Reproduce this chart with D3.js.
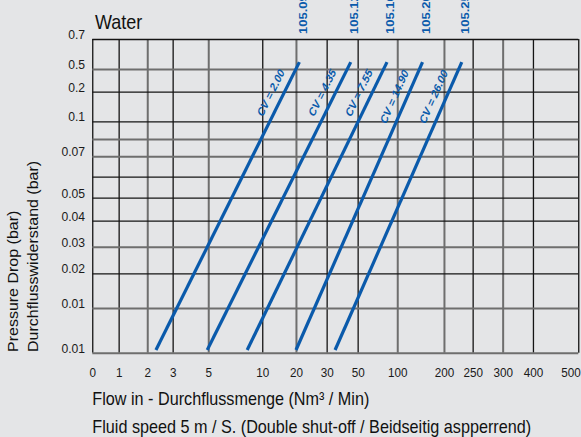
<!doctype html>
<html lang="en">
<head>
<meta charset="UTF-8">
<title>Water - pressure drop</title>
<style>
  html, body { margin: 0; padding: 0; background: #e4e5e7; }
  svg { display: block; font-family: "Liberation Sans", Arial, sans-serif; }
</style>
</head>
<body>
<svg width="581" height="437"></svg>

<script src="https://d3js.org/d3.v7.min.js"></script>
<script>
    // chart data
    const xTicks = [0, 1, 2, 3, 5, 10, 20, 30, 50, 100, 200, 250, 300, 400, 500];
    const yTickLabels = ['0.01', '0.01', '0.02', '0.03', '0.04', '0.05', '', '0.07', '', '0.1', '0.2', '0.5', '0.7'];
    const cvValues = [2.00, 4.35, 7.55, 14.90, 26.00];
    const modelLabels = ['105.09', '105.12', '105.16', '105.20', '105.25'];
    const flowLow = [2.34, 4.94, 8.6, 20.0, 35.4];     // flow at bottom end of each line
    const flowHigh = [21.1, 45.5, 87, 154, 231];       // flow at top end of each line
    const rowLow = 0.06, rowHigh = 11.23;              // ends of the lines, in grid rows

    // layout (the grid is not evenly spaced)
    const SX = 0.9; // the whole drawing is a bit squeezed sideways
    const xGridPx = [92.3, 118.7, 147.3, 172.7, 208.3, 262.3, 296, 326.7, 357.7, 397.3, 444, 472.7, 502.7, 533, 578.3];
    const yGridPx = [352.7, 308, 273.3, 246.7, 220.7, 197.7, 176.7, 156.3, 139, 121.3, 91.7, 69, 39];
    const xDark = [1, 1, 0, 1, 0, 1, 0, 1, 1, 0, 0, 1, 0, 1, 1];
    const yDark = [0, 0, 1, 0, 1, 1, 1, 0, 0, 1, 1, 0, 1];
    const blue = '#0a5aab';

    const svg = d3.select('svg');
    const g = svg.append('g').attr('transform', `scale(${SX},1)`);

    const x = d3.scaleLinear()
        .domain(xTicks)
        .range(xGridPx.map(v => v / SX));
    const y = d3.scaleLinear()
        .domain(d3.range(yGridPx.length))
        .range(yGridPx);

    const plotLeft = x(0), plotRight = x(500), plotTop = y(12), plotBottom = y(0);

    const gridStyle = (sel, dark) => sel
        .attr('stroke', (d, i) => dark[i] ? '#141414' : '#6e6e6e')
        .attr('stroke-width', (d, i) => dark[i] ? 1.3 : 2)
        .attr('vector-effect', 'non-scaling-stroke');

    // x axis + vertical grid
    const xAxis = g.append('g')
        .attr('transform', `translate(0,${plotBottom})`)
        .call(d3.axisBottom(x)
            .tickValues(xTicks)
            .tickFormat(d => d)
            .tickSize(-(plotBottom - plotTop))
            .tickPadding(15));
    xAxis.select('.domain').remove();
    gridStyle(xAxis.selectAll('.tick line'), xDark);
    xAxis.selectAll('.tick text')
        .attr('font-size', 13)
        .attr('fill', '#1a1a1a');
    // last label sits inside the right edge
    xAxis.selectAll('.tick text').filter(d => d === 500)
        .attr('text-anchor', 'end')
        .attr('dx', 2 / SX);

    // y axis + horizontal grid
    const yAxis = g.append('g')
        .attr('transform', `translate(${plotLeft},0)`)
        .call(d3.axisLeft(y)
            .tickValues(d3.range(yGridPx.length))
            .tickFormat(i => yTickLabels[i])
            .tickSize(-(plotRight - plotLeft))
            .tickPadding(8));
    yAxis.select('.domain').remove();
    gridStyle(yAxis.selectAll('.tick line'), yDark);
    yAxis.selectAll('.tick text')
        .attr('font-size', 13.5)
        .attr('dy', '-0.05em')
        .attr('fill', '#1a1a1a');

    // flow lines
    const lines = cvValues.map((cv, i) => ({
        cv: cv,
        model: modelLabels[i],
        p1: [x(flowLow[i]), y(rowLow)],
        p2: [x(flowHigh[i]), y(rowHigh)]
    }));

    g.selectAll('path.cv')
        .data(lines)
        .join('path')
        .attr('class', 'cv')
        .attr('d', d => d3.line()([d.p1, d.p2]))
        .attr('stroke', blue)
        .attr('stroke-width', 3.2)
        .attr('vector-effect', 'non-scaling-stroke')
        .attr('fill', 'none');

    // CV labels along each line
    g.selectAll('text.cvlab')
        .data(lines)
        .join('text')
        .attr('class', 'cvlab')
        .attr('transform', d => {
            const dx = d.p2[0] - d.p1[0], dy = d.p2[1] - d.p1[1];
            const a = Math.atan2(dy, dx);
            const bx = d.p2[0] - dx * 0.05, by = d.p2[1] - dy * 0.05;
            const ax = bx + 9 * Math.sin(a), ay = by - 9 * Math.cos(a);
            return `translate(${ax},${ay}) rotate(${a * 180 / Math.PI})`;
        })
        .attr('text-anchor', 'end')
        .attr('font-size', 11.5)
        .attr('font-weight', 'bold')
        .attr('font-style', 'italic')
        .attr('fill', blue)
        .text(d => 'CV = ' + d.cv.toFixed(2));

    // model numbers above the lines
    g.selectAll('text.model')
        .data(lines)
        .join('text')
        .attr('class', 'model')
        .attr('transform', d => `translate(${d.p2[0] + 8.3},34) rotate(-90)`)
        .attr('font-size', 13)
        .attr('font-weight', 'bold')
        .attr('fill', blue)
        .text(d => d.model);

    // titles
    g.append('text')
        .attr('x', 95 / SX)
        .attr('y', 29.5)
        .attr('font-size', 20)
        .attr('fill', '#111')
        .text('Water');

    g.append('text')
        .attr('x', plotLeft)
        .attr('y', 405)
        .attr('font-size', 18)
        .attr('fill', '#111')
        .text('Flow in - Durchflussmenge (Nm³ / Min)');

    g.append('text')
        .attr('x', plotLeft)
        .attr('y', 433)
        .attr('font-size', 18)
        .attr('fill', '#111')
        .text('Fluid speed 5 m / S. (Double shut-off / Beidseitig aspperrend)');

    g.append('text')
        .attr('transform', `translate(${18 / SX},352) rotate(-90)`)
        .attr('font-size', 16)
        .attr('fill', '#111')
        .text('Pressure Drop (bar)');

    g.append('text')
        .attr('transform', `translate(${38 / SX},352) rotate(-90)`)
        .attr('font-size', 16)
        .attr('fill', '#111')
        .text('Durchflusswiderstand (bar)');
</script>
</body>
</html>
